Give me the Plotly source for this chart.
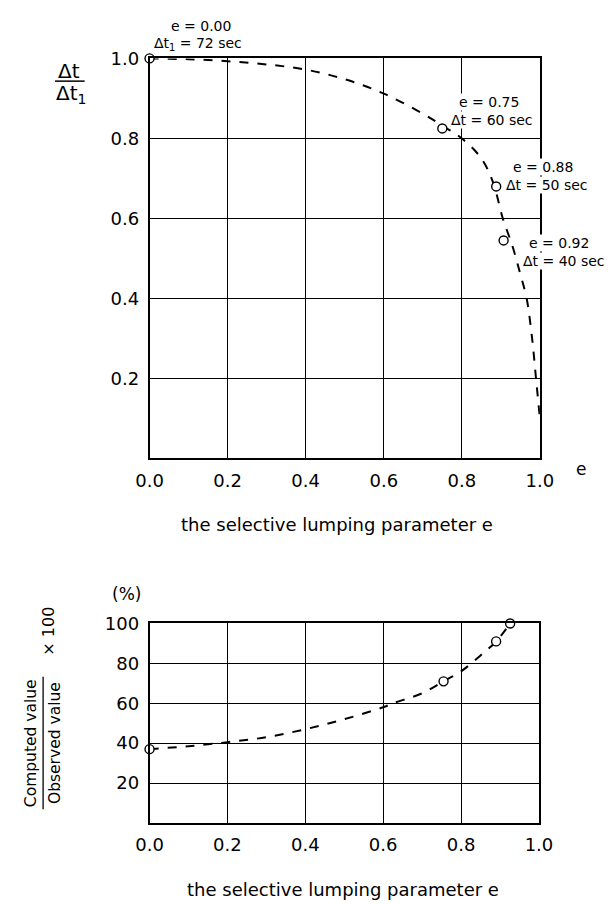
import plotly.graph_objects as go

# ---------------- data ----------------
# top panel: normalised time step vs lumping parameter
top_curve_e = [0.0, 0.1, 0.2, 0.3, 0.4, 0.5, 0.6, 0.7, 0.75, 0.8, 0.85, 0.88, 0.905, 0.93, 0.95, 0.966, 0.98, 0.99, 1.0]
top_curve_r = [1.0, 0.998, 0.993, 0.985, 0.972, 0.948, 0.912, 0.862, 0.832, 0.80, 0.75, 0.69, 0.60, 0.53, 0.46, 0.40, 0.30, 0.20, 0.10]
top_pts_e = [0.0, 0.75, 0.888, 0.907]
top_pts_r = [1.0, 0.825, 0.68, 0.545]
top_labels = [("e = 0.00", "Δt<sub>1</sub> = 72 sec"),
              ("e = 0.75", "Δt = 60 sec"),
              ("e = 0.88", "Δt = 50 sec"),
              ("e = 0.92", "Δt = 40 sec")]

# bottom panel: computed / observed (%)
bot_curve_e = [0.0, 0.1, 0.2, 0.3, 0.4, 0.5, 0.6, 0.625, 0.7, 0.755, 0.8, 0.85, 0.89, 0.926]
bot_curve_v = [37, 38.5, 40.5, 43, 47, 52, 58, 60, 65, 71, 76, 84, 91, 100]
bot_pts_e = [0.0, 0.755, 0.89, 0.926]
bot_pts_v = [37, 71, 91, 100]

x_ticks = [0.0, 0.2, 0.4, 0.6, 0.8, 1.0]
top_y_ticks = [0.2, 0.4, 0.6, 0.8, 1.0]
bot_y_ticks = [20, 40, 60, 80, 100]
x_title = "the selective lumping parameter e"

# ---------------- figure ----------------
W, H = 615, 904
FONT = "DejaVu Sans"
def px(x):
    return x / W
def py(y):
    return 1 - y / H

fig = go.Figure()

line_style = dict(color="black", width=2, dash="dash")
marker_style = dict(symbol="circle", size=9, color="white", line=dict(color="black", width=1.4))

fig.add_trace(go.Scatter(x=top_curve_e, y=top_curve_r, mode="lines", line=line_style,
                         line_shape="spline", xaxis="x", yaxis="y", hoverinfo="skip"))
fig.add_trace(go.Scatter(x=top_pts_e, y=top_pts_r, mode="markers", marker=marker_style,
                         xaxis="x", yaxis="y", cliponaxis=False))
fig.add_trace(go.Scatter(x=bot_curve_e, y=bot_curve_v, mode="lines", line=line_style,
                         line_shape="spline", xaxis="x2", yaxis="y2", hoverinfo="skip"))
fig.add_trace(go.Scatter(x=bot_pts_e, y=bot_pts_v, mode="markers", marker=marker_style,
                         xaxis="x2", yaxis="y2", cliponaxis=False))

axis_common = dict(showline=True, linecolor="black", linewidth=1.5, mirror=True,
                   showgrid=True, gridcolor="black", gridwidth=1.3, zeroline=False,
                   ticks="outside", ticklen=5, tickcolor="rgba(0,0,0,0)",
                   tickfont=dict(family=FONT, size=18, color="black"))

fig.update_layout(
    width=W, height=H, margin=dict(l=0, r=0, t=0, b=0),
    paper_bgcolor="white", plot_bgcolor="white", showlegend=False,
    font=dict(family=FONT, color="black"),
    xaxis=dict(domain=[px(142), px(551)], range=[0, 1], tickvals=x_ticks,
               ticktext=[f"{v:.1f}" for v in x_ticks], anchor="y", **axis_common),
    yaxis=dict(domain=[py(453), py(48)], range=[0, 1], tickvals=top_y_ticks,
               ticktext=[f"{v:.1f}" for v in top_y_ticks], anchor="x", **axis_common),
    xaxis2=dict(domain=[px(142), px(550)], range=[0, 1], tickvals=x_ticks,
                ticktext=[f"{v:.1f}" for v in x_ticks], anchor="y2", **axis_common),
    yaxis2=dict(domain=[py(822), py(620)], range=[0, 100], tickvals=bot_y_ticks,
                ticktext=[str(v) for v in bot_y_ticks], anchor="x2", **axis_common),
)

ann = []
def text(x, y, s, size=14, xanchor="center", angle=0, bg=None):
    d = dict(x=px(x), y=py(y), xref="paper", yref="paper", text=s, showarrow=False,
             xanchor=xanchor, yanchor="middle", textangle=angle, borderpad=0,
             font=dict(family=FONT, size=size, color="black"))
    if bg:
        d["bgcolor"] = bg
    ann.append(d)

# point labels, top panel
lab_pos = [((163, 15), (146, 33)), ((465, 92), (457, 110)),
           ((522, 158), (514, 176)), ((539, 235), (532, 253))]
for (l1, l2), ((x1, y1), (x2, y2)) in zip(top_labels, lab_pos):
    text(x1, y1, l1, size=14, xanchor="left", bg="white")
    text(x2, y2, l2, size=14, xanchor="left", bg="white")

# top y label (fraction)
text(58, 61, "Δt", size=20)
text(60, 84, "Δt<sub>1</sub>", size=20)
fig.add_shape(type="line", xref="paper", yref="paper", x0=px(43), x1=px(74),
              y0=py(71), y1=py(71), line=dict(color="black", width=1.5))
# "e" at end of top x axis
text(594, 464, "e", size=17)
# x titles
text(338, 520, x_title, size=18)
text(345, 889, x_title, size=18)
# bottom y label
text(118, 590, "(%)", size=17)
text(18, 741, "Computed value", size=15.5, angle=-90)
text(43, 741, "Observed value", size=15.5, angle=-90)
fig.add_shape(type="line", xref="paper", yref="paper", x0=px(30.5), x1=px(30.5),
              y0=py(674), y1=py(808), line=dict(color="black", width=1.3))
text(36, 628, "× 100", size=16, angle=-90)

fig.update_layout(annotations=ann)
fig.write_html("out.html", config={"displayModeBar": False},
               post_script="document.body.style.margin='0';document.body.style.overflow='hidden';")
